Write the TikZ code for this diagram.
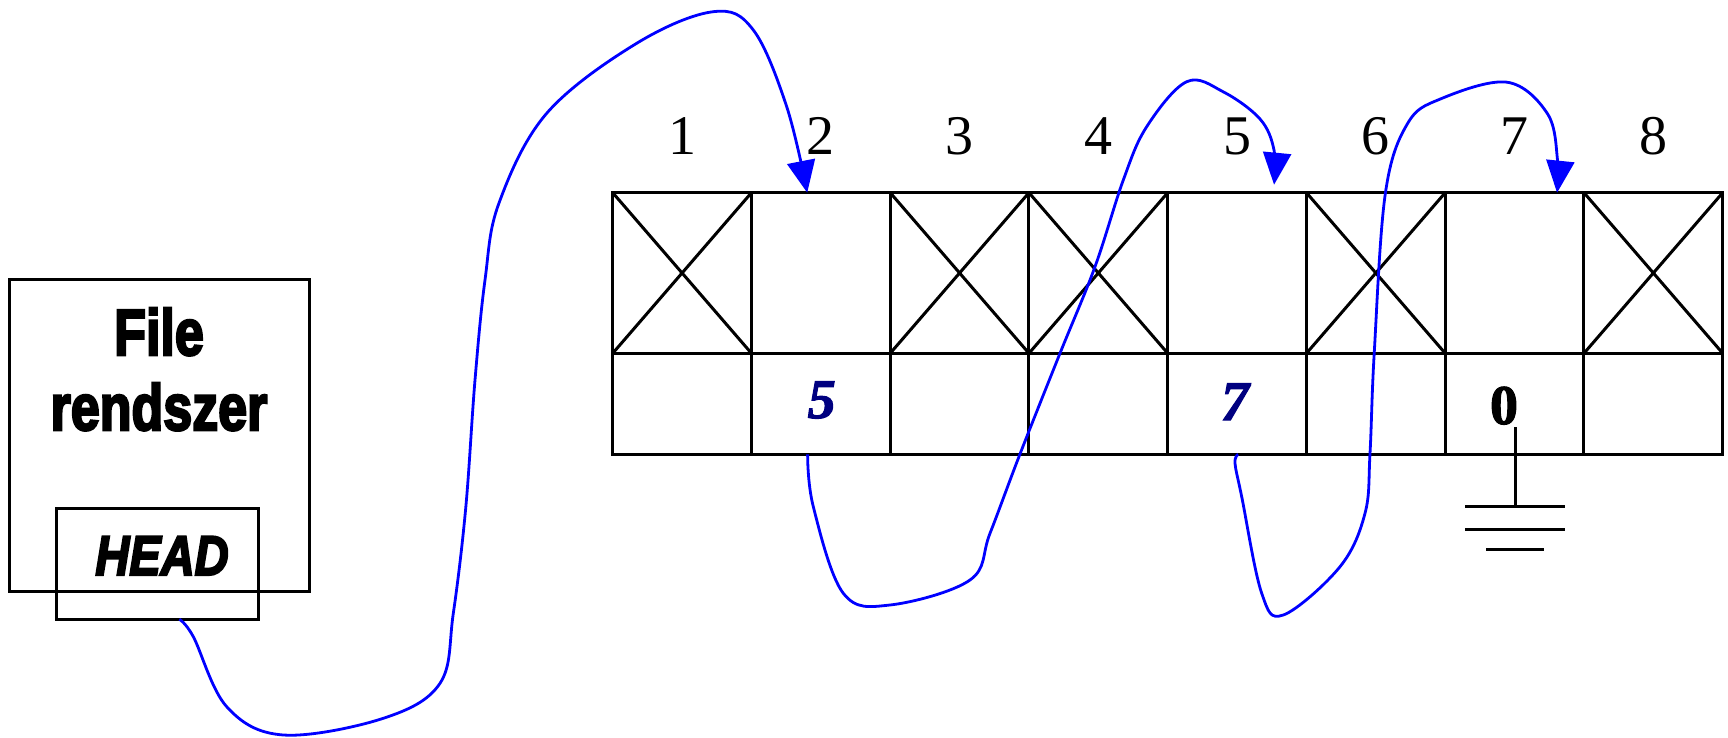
\documentclass[tikz,border=0pt]{standalone}
\usepackage{fontspec}
\setmainfont{Liberation Serif}
\setsansfont{Liberation Sans}
\newfontfamily\heavysans{Liberation Sans}[FakeBold=4]
\newfontfamily\heavyserif{Liberation Serif}[FakeBold=2]
\usetikzlibrary{arrows.meta,calc}
\definecolor{navyblue}{RGB}{0,0,128}
\definecolor{linkblue}{RGB}{0,0,255}
\begin{document}
\begin{tikzpicture}[x=1pt,y=-1pt,
  blk/.style={draw=black,line width=3pt},
  box/.style={blk,rectangle,inner sep=0pt,outer sep=0pt},
  ucell/.style={box,minimum width=138.75pt,minimum height=160.6pt},
  lcell/.style={box,minimum width=138.75pt,minimum height=101pt},
  idx/.style={font=\fontsize{56}{60}\selectfont,anchor=base,inner sep=0pt},
  val/.style={font=\heavyserif\fontsize{56}{60}\selectfont\bfseries\itshape,text=navyblue,anchor=base,inner sep=0pt},
  big/.style={font=\heavysans\bfseries\fontsize{65}{75}\selectfont,anchor=base,inner sep=0pt},
  link/.style={draw=linkblue,line width=2.8pt,line join=round},
  arrowed/.style={-{Triangle[length=32pt,width=28pt]}},
]
\useasboundingbox (0,0) rectangle (1728,738);

% File system box
\node[box,minimum width=300pt,minimum height=312pt] (fs) at (159,435) {};
\node[big] (tfile) at (159,355) {\scalebox{0.8}[1]{File}};
\node[big] (trend) at (159,430) {\scalebox{0.8}[1]{rendszer}};
\node[box,minimum width=202pt,minimum height=111pt] (head) at (157,563.5) {};
\node[big,font=\heavysans\bfseries\itshape\fontsize{56}{60}\selectfont] (thead) at (162,575) {\scalebox{0.84}[1]{HEAD}};

% grid
\foreach \i in {1,...,8}{
  \node[ucell] (u\i) at ({612.7+(\i-0.5)*138.75},273) {};
  \node[lcell] (v\i) at ({612.7+(\i-0.5)*138.75},403.8) {};
  \node[idx] (n\i) at ({612.7+(\i-0.5)*138.75},155) {\i};
}
\foreach \i in {1,3,4,6,8}{
  \draw[blk] (u\i.north west) -- (u\i.south east) (u\i.north east) -- (u\i.south west);
}

% values
\node[val] (f2) at (821.7,418) {5};
\node[val] (f5) at (1235,420) {7};
\node[idx,font=\heavyserif\fontsize{56}{60}\selectfont\bfseries] (f7) at (1504,424) {0};

% ground
\coordinate (gtop) at (1515,427);
\coordinate (gbot) at (1515,506);
\draw[blk] (gtop) -- (gbot);
\draw[blk] (1465,506) -- (1565,506);
\draw[blk] (1465,529) -- (1565,529);
\draw[blk] (1486,549.3) -- (1544,549.3);

% link endpoints
\coordinate (hs) at (179.3,619.3);
\coordinate (t2) at ($(u2.north)+(-13.6,0)$);
\coordinate (s2) at ($(v2.south)+(-13.2,0)$);
\coordinate (t5) at ($(u5.north)+(37,-8)$);
\coordinate (s5) at ($(v5.south)+(1,0)$);
\coordinate (t7) at ($(u7.north)+(42.5,0)$);

% links
\draw[link,arrowed] plot[smooth,tension=0.6] coordinates {(hs) (193.3,636.7) (226.7,706.7) (283.3,735) (383.3,718.3) (440,683.3) (453.3,613.3) (465.7,508.3) (475,380) (485,280) (499,203) (546.7,113.3) (636.7,43.3) (713.3,11.7) (753.3,30) (786.7,106.7) (t2)};

\draw[link,arrowed] plot[smooth,tension=0.6] coordinates {(s2) (813.3,506.7) (843.3,593.3) (890,605) (970,580) (990,533.3) (1020,454) (1060,353.3) (1095,266.7) (1123.3,180) (1146.7,126.7) (1186.7,81.7) (1223,91.7) (1260,119) (1274,150) (t5)};

\draw[link,arrowed] plot[smooth,tension=0.6] coordinates {(s5) (1235,463.3) (1241.7,496.7) (1261.7,593.3) (1283.3,615) (1340,566.7) (1365,513.3) (1370,453.3) (1374.2,353.4) (1385.3,193.7) (1407.4,123.8) (1440.6,98.9) (1507,82.2) (1547.5,113.8) (1557.5,160) (t7)};
\end{tikzpicture}
\end{document}
